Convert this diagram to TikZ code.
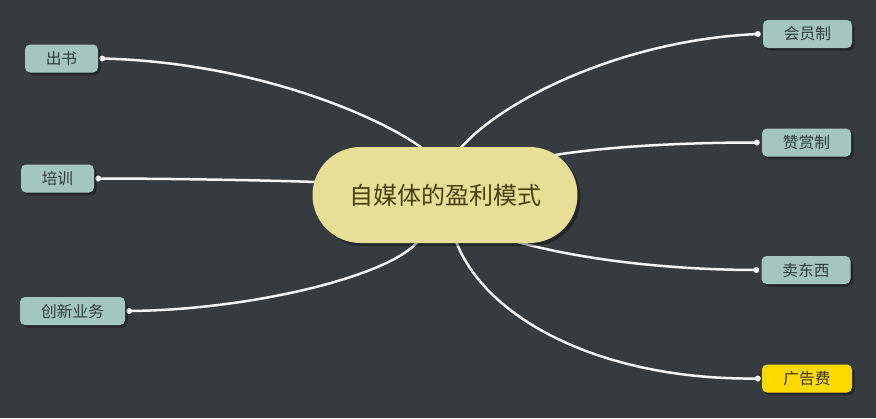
\documentclass[tikz,border=0pt]{standalone}
\usepackage{fontspec}
\newfontfamily\cjk{Noto Sans CJK SC}
\usetikzlibrary{shadows,calc}
\definecolor{bgc}{HTML}{363B3F}
\definecolor{leaf}{HTML}{A3C7C0}
\definecolor{leaftext}{HTML}{2F3A38}
\definecolor{gold}{HTML}{FFD900}
\definecolor{goldtext}{HTML}{3A3200}
\definecolor{centre}{HTML}{E8DF97}
\definecolor{centretext}{HTML}{4A3E05}
\definecolor{wirec}{HTML}{F6F6F6}
\pgfdeclarelayer{back}
\pgfdeclarelayer{wires}
\pgfsetlayers{back,wires,main}
\begin{document}
\begin{tikzpicture}[x=1pt,y=-1pt,
  leafbox/.style={draw=none, fill=leaf, rounded corners=5pt, minimum height=28pt, inner sep=0pt,
    font=\cjk\fontsize{15.7}{18}\selectfont, text=leaftext,
    drop shadow={shadow xshift=2.5pt, shadow yshift=-2.5pt, fill=black, opacity=0.35}},
  goldbox/.style={leafbox, fill=gold, text=goldtext},
  centrebox/.style={draw=none, fill=centre, rounded corners=48pt, minimum width=265pt, minimum height=96pt,
    inner sep=0pt, font=\cjk\fontsize{24}{28}\selectfont, text=centretext,
    drop shadow={shadow xshift=3pt, shadow yshift=-3pt, fill=black, opacity=0.35}},
  wire/.style={draw=wirec, line width=2.5pt},
  enddot/.style={fill=wirec}
]
\begin{pgfonlayer}{back}
\fill[bgc] (0,0) rectangle (876,418);
\end{pgfonlayer}
\useasboundingbox (0,0) rectangle (876,418);

\node[centrebox] (c) at (445,195) {自媒体的盈利模式};

\node[leafbox, minimum width=73pt] (b1) at (61.5,58.5) {出书};
\node[leafbox, minimum width=73pt] (b2) at (57.5,178.5) {培训};
\node[leafbox, minimum width=105pt] (b3) at (72.5,311) {创新业务};
\node[leafbox, minimum width=89pt] (b4) at (807.5,34) {会员制};
\node[leafbox, minimum width=89pt] (b5) at (806.5,142.5) {赞赏制};
\node[leafbox, minimum width=89pt] (b6) at (806,270) {卖东西};
\node[goldbox, minimum width=90pt] (b7) at (807,378.5) {广告费};

\coordinate (d1) at ($(b1.east)+(4,0)$);
\coordinate (d2) at ($(b2.east)+(4,0)$);
\coordinate (d3) at ($(b3.east)+(4,0)$);
\coordinate (d4) at ($(b4.west)+(-5,0)$);
\coordinate (d5) at ($(b5.west)+(-5,0)$);
\coordinate (d6) at ($(b6.west)+(-5,0)$);
\coordinate (d7) at ($(b7.west)+(-4,0)$);

\coordinate (s1) at ($(c.north)+(-22,2)$);
\coordinate (s2) at ($(c.north)+(15,2)$);
\coordinate (s4) at ($(c.center)+(-129,-13)$);
\coordinate (s3) at ($(c.center)+(110,-40)$);
\coordinate (s5) at ($(c.south)+(70,-2)$);
\coordinate (s6) at ($(c.south)+(-27,-2)$);
\coordinate (s7) at ($(c.south)+(11,-2)$);

\begin{pgfonlayer}{wires}
\draw[wire] (s1) .. controls +(-38,-29) and +(158,4) .. (d1);
\draw[wire] (s4) .. controls +(-60,-2) and +(60,0) .. (d2);
\draw[wire] (s6) .. controls +(-28,35) and +(121,-1) .. (d3);
\draw[wire] (s2) .. controls +(40,-47) and +(-138,6) .. (d4);
\draw[wire] (s3) .. controls +(63,-10) and +(-57,0) .. (d5);
\draw[wire] (s5) .. controls +(70,20) and +(-77,0) .. (d6);
\draw[wire] (s7) .. controls +(29,77) and +(-157,2) .. (d7);
\foreach \d in {d1,d2,d3,d4,d5,d6,d7} \fill[enddot] (\d) circle (3);
\end{pgfonlayer}
\end{tikzpicture}
\end{document}
